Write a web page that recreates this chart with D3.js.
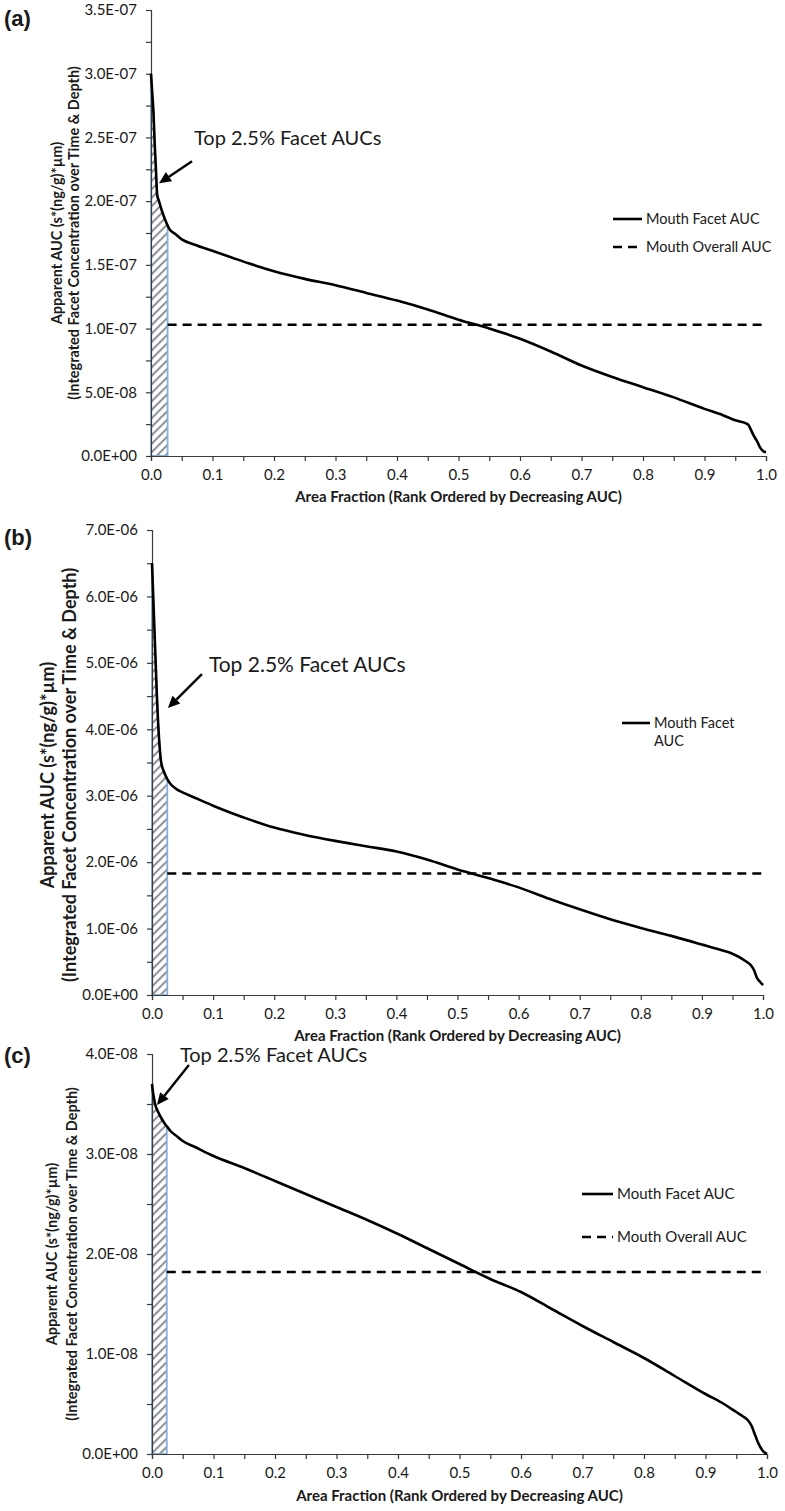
<!DOCTYPE html>
<html><head><meta charset="utf-8">
<script src="https://cdn.jsdelivr.net/npm/d3@7"></script>
<style>body{margin:0;background:#fff}svg{display:block}text{font-family:Lato,"Open Sans",sans-serif;fill:#1a1a1a}</style>
</head><body>
<script>
// ---------- DATA ----------
const xTickValues = [0,0.1,0.2,0.3,0.4,0.5,0.6,0.7,0.8,0.9,1.0];
const xMinorValues = [0.05,0.15,0.25,0.35,0.45,0.55,0.65,0.75,0.85,0.95];

// Panel (a)
const aX = [0,0.002,0.004,0.006,0.008,0.010,0.013,0.018,0.025,0.03,0.04,0.05,0.07,0.1,0.13,0.16,0.2,0.25,0.3,0.35,0.4,0.45,0.5,0.55,0.6,0.65,0.7,0.75,0.8,0.85,0.9,0.93,0.95,0.97,0.98,0.985,0.99,0.995,1.0];
const aFacet = [3.0e-7,2.85e-7,2.7e-7,2.45e-7,2.25e-7,2.05e-7,2.0e-7,1.92e-7,1.83e-7,1.78e-7,1.74e-7,1.70e-7,1.66e-7,1.61e-7,1.56e-7,1.51e-7,1.45e-7,1.39e-7,1.34e-7,1.28e-7,1.22e-7,1.15e-7,1.07e-7,1.0e-7,0.92e-7,0.82e-7,0.71e-7,0.62e-7,0.54e-7,0.46e-7,0.37e-7,0.32e-7,0.28e-7,0.25e-7,0.16e-7,0.12e-7,0.07e-7,0.04e-7,0.03e-7];
const aOverall = 1.03e-7;
const aYTicks = [0,5e-8,1e-7,1.5e-7,2e-7,2.5e-7,3e-7,3.5e-7];
const aYMinor = [2.5e-8,7.5e-8,1.25e-7,1.75e-7,2.25e-7,2.75e-7,3.25e-7];
const aTop = 0.027;

// Panel (b)
const bX = [0,0.002,0.004,0.006,0.008,0.010,0.012,0.015,0.02,0.025,0.03,0.04,0.05,0.07,0.1,0.13,0.16,0.2,0.25,0.3,0.35,0.4,0.45,0.5,0.55,0.6,0.65,0.7,0.75,0.8,0.85,0.9,0.93,0.95,0.97,0.98,0.985,0.99,0.995,1.0];
const bFacet = [6.5e-6,6.0e-6,5.5e-6,5.0e-6,4.5e-6,4.1e-6,3.8e-6,3.5e-6,3.35e-6,3.25e-6,3.18e-6,3.1e-6,3.05e-6,2.97e-6,2.85e-6,2.74e-6,2.64e-6,2.52e-6,2.41e-6,2.32e-6,2.24e-6,2.16e-6,2.04e-6,1.89e-6,1.76e-6,1.62e-6,1.45e-6,1.29e-6,1.14e-6,1.01e-6,0.89e-6,0.76e-6,0.68e-6,0.62e-6,0.52e-6,0.45e-6,0.38e-6,0.26e-6,0.2e-6,0.15e-6];
const bOverall = 1.83e-6;
const bYTicks = [0,1e-6,2e-6,3e-6,4e-6,5e-6,6e-6,7e-6];
const bYMinor = [0.5e-6,1.5e-6,2.5e-6,3.5e-6,4.5e-6,5.5e-6,6.5e-6];
const bTop = 0.025;

// Panel (c)
const cX = [0,0.002,0.005,0.01,0.015,0.02,0.025,0.03,0.04,0.05,0.07,0.1,0.15,0.2,0.25,0.3,0.35,0.4,0.45,0.5,0.55,0.6,0.65,0.7,0.75,0.8,0.85,0.9,0.93,0.95,0.96,0.97,0.975,0.98,0.985,0.99,0.995,1.0];
const cFacet = [3.7e-8,3.6e-8,3.5e-8,3.42e-8,3.36e-8,3.31e-8,3.27e-8,3.23e-8,3.18e-8,3.13e-8,3.07e-8,2.98e-8,2.86e-8,2.73e-8,2.6e-8,2.47e-8,2.34e-8,2.2e-8,2.05e-8,1.9e-8,1.75e-8,1.62e-8,1.45e-8,1.28e-8,1.12e-8,0.96e-8,0.78e-8,0.6e-8,0.5e-8,0.42e-8,0.38e-8,0.33e-8,0.28e-8,0.2e-8,0.12e-8,0.06e-8,0.02e-8,0.0];
const cOverall = 1.82e-8;
const cYTicks = [0,1e-8,2e-8,3e-8,4e-8];
const cYMinor = [0.5e-8,1.5e-8,2.5e-8,3.5e-8];
const cTop = 0.024;

const xTitle = "Area Fraction (Rank Ordered by Decreasing AUC)";
const yTitle1 = "Apparent AUC (s*(ng/g)*µm)";
const yTitle2 = "(Integrated Facet Concentration over Time & Depth)";
const annText = "Top 2.5% Facet AUCs";

// ---------- DRAW ----------
const svg = d3.select("body").append("svg").attr("width",785).attr("height",1511);
const defs = svg.append("defs");
const pat = defs.append("pattern").attr("id","hatch").attr("patternUnits","userSpaceOnUse")
  .attr("width",6).attr("height",6).attr("patternTransform","rotate(45)");
pat.append("rect").attr("width",6).attr("height",6).attr("fill","#fff");
pat.append("line").attr("x1",1).attr("y1",0).attr("x2",1).attr("y2",6).attr("stroke","#8f9499").attr("stroke-width",2.2);

function fmtE(v){
  if(v===0) return "0.0E+00";
  const s=v.toExponential(1); const [m,e]=s.split("e"); const n=parseInt(e);
  return m+"E"+(n<0?"-":"+")+String(Math.abs(n)).padStart(2,"0");
}

function panel(cfg){
  const x = d3.scaleLinear().domain([0,1]).range([cfg.x0,cfg.x1]);
  const y = d3.scaleLinear().domain([0,cfg.yMax]).range([cfg.y0,cfg.y1]);
  const g = svg.append("g");
  const interp = d3.scaleLinear().domain(cfg.xs).range(cfg.ys);
  const curve = d3.curveMonotoneX;

  // hatched top-2.5% area
  const pts = [[0,0]];
  cfg.xs.forEach((xv,i)=>{ if(xv<cfg.top) pts.push([xv,cfg.ys[i]]); });
  pts.push([cfg.top,interp(cfg.top)]); pts.push([cfg.top,0]);
  g.append("path").attr("d", d3.line().x(d=>x(d[0])).y(d=>y(d[1]))(pts)+"Z")
    .attr("fill","url(#hatch)").attr("stroke","#86aedb").attr("stroke-width",1.8);

  // axes
  const ay = g.append("g").attr("transform",`translate(${cfg.x0},0)`)
    .call(d3.axisLeft(y).tickValues(cfg.yTicks.concat(cfg.yMinor)).tickSizeOuter(0).tickSize(5).tickPadding(9)
      .tickFormat(v=>cfg.yTicks.includes(v)?fmtE(v):""));
  const ax = g.append("g").attr("transform",`translate(0,${cfg.y0})`)
    .call(d3.axisBottom(x).tickValues(xTickValues.concat(xMinorValues)).tickSizeOuter(0).tickSize(5).tickPadding(8)
      .tickFormat(v=>xTickValues.includes(v)?v.toFixed(1):""));
  [ay,ax].forEach(a=>{
    a.selectAll("path,line").attr("stroke","#3a3a3a").attr("stroke-width",1.2);
    a.selectAll("text").style("font-family","Lato").style("font-size","15px").attr("fill","#1a1a1a");
  });

  // overall dashed line
  if(cfg.overall!=null){
    g.append("line").attr("x1",x(cfg.top)).attr("x2",x(1)).attr("y1",y(cfg.overall)).attr("y2",y(cfg.overall))
      .attr("stroke","#000").attr("stroke-width",2.6).attr("stroke-dasharray","9,6");
  }
  // facet curve
  g.append("path").datum(cfg.xs.map((v,i)=>[v,cfg.ys[i]]))
    .attr("d",d3.line().curve(curve).x(d=>x(d[0])).y(d=>y(d[1])))
    .attr("fill","none").attr("stroke","#000").attr("stroke-width",2.6).attr("stroke-linejoin","round");

  // annotation arrow
  const hx=x(cfg.ann[0]), hy=y(cfg.ann[1]);
  const tx=hx+cfg.tail[0], ty=hy+cfg.tail[1];
  const ang=Math.atan2(hy-ty,hx-tx);
  const L=12,W=5.5;
  const bx=hx-L*Math.cos(ang), by=hy-L*Math.sin(ang);
  g.append("line").attr("x1",tx).attr("y1",ty).attr("x2",bx).attr("y2",by).attr("stroke","#000").attr("stroke-width",2.4);
  g.append("path").attr("d",`M${hx},${hy}L${bx-W*Math.sin(ang)},${by+W*Math.cos(ang)}L${bx+W*Math.sin(ang)},${by-W*Math.cos(ang)}Z`).attr("fill","#000");
  g.append("text").attr("x",hx+cfg.textOff[0]).attr("y",hy+cfg.textOff[1]).style("font-size",cfg.annSize+"px").text(annText);

  // panel label
  g.append("text").attr("x",4).attr("y",cfg.labelY).style("font-family","'Liberation Sans',Arial,sans-serif")
    .style("font-weight","bold").style("font-size","22px").attr("fill","#111").text(cfg.label);

  // axis titles
  g.append("text").attr("x",(cfg.x0+cfg.x1)/2).attr("y",cfg.xTitleY).attr("text-anchor","middle")
    .style("font-weight","bold").style("font-size","15px").text(xTitle);
  const yc=cfg.yTitleC;
  [[yTitle1,cfg.yT1x],[yTitle2,cfg.yT2x]].forEach(([t,xx])=>{
    g.append("text").attr("transform",`translate(${xx},${yc}) rotate(-90)`).attr("text-anchor","middle")
      .attr("dy","0.35em").style("font-weight","bold").style("font-size",cfg.yTitleSize+"px").text(t);
  });

  // legend
  cfg.legend.forEach(l=>{
    g.append("line").attr("x1",l.x).attr("x2",l.x+l.w).attr("y1",l.y).attr("y2",l.y)
      .attr("stroke","#000").attr("stroke-width",2.6).attr("stroke-dasharray",l.dash?"9,6":null);
    l.lines.forEach((t,i)=>{
      g.append("text").attr("x",l.x+l.w+4).attr("y",l.y+i*l.lh).attr("dy","0.35em")
        .style("font-size",l.size+"px").text(t);
    });
  });
}

panel({label:"(a)",labelY:26,x0:151,x1:766,y0:456,y1:10,yMax:3.5e-7,xs:aX,ys:aFacet,overall:aOverall,
  yTicks:aYTicks,yMinor:aYMinor,top:aTop,ann:[0.013,2.14e-7],tail:[33,-22],textOff:[35,-38],annSize:20,
  xTitleY:502,yTitleC:233,yT1x:57,yT2x:74,yTitleSize:14.5,
  legend:[{x:613,w:29,y:219,lines:["Mouth Facet AUC"],size:14.5,lh:0},
          {x:613,w:29,y:247,dash:true,lines:["Mouth Overall AUC"],size:14.5,lh:0}]});

panel({label:"(b)",labelY:545,x0:152,x1:763,y0:995,y1:530,yMax:7e-6,xs:bX,ys:bFacet,overall:bOverall,
  yTicks:bYTicks,yMinor:bYMinor,top:bTop,ann:[0.026,4.32e-6],tail:[34,-34],textOff:[41,-36],annSize:21,
  xTitleY:1041,yTitleC:775,yT1x:48,yT2x:70,yTitleSize:18,
  legend:[{x:622,w:28,y:723,lines:["Mouth Facet","AUC"],size:14.5,lh:18}]});

panel({label:"(c)",labelY:1063,x0:152,x1:767,y0:1454,y1:1054,yMax:4e-8,xs:cX,ys:cFacet,overall:cOverall,
  yTicks:cYTicks,yMinor:cYMinor,top:cTop,ann:[0.008,3.49e-8],tail:[32,-40],textOff:[23,-43],annSize:20,
  xTitleY:1501,yTitleC:1254,yT1x:52,yT2x:72,yTitleSize:14.5,
  legend:[{x:582,w:31,y:1194,lines:["Mouth Facet AUC"],size:15,lh:0},
          {x:582,w:31,y:1237,dash:true,lines:["Mouth Overall AUC"],size:15,lh:0}]});
</script>
</body></html>
